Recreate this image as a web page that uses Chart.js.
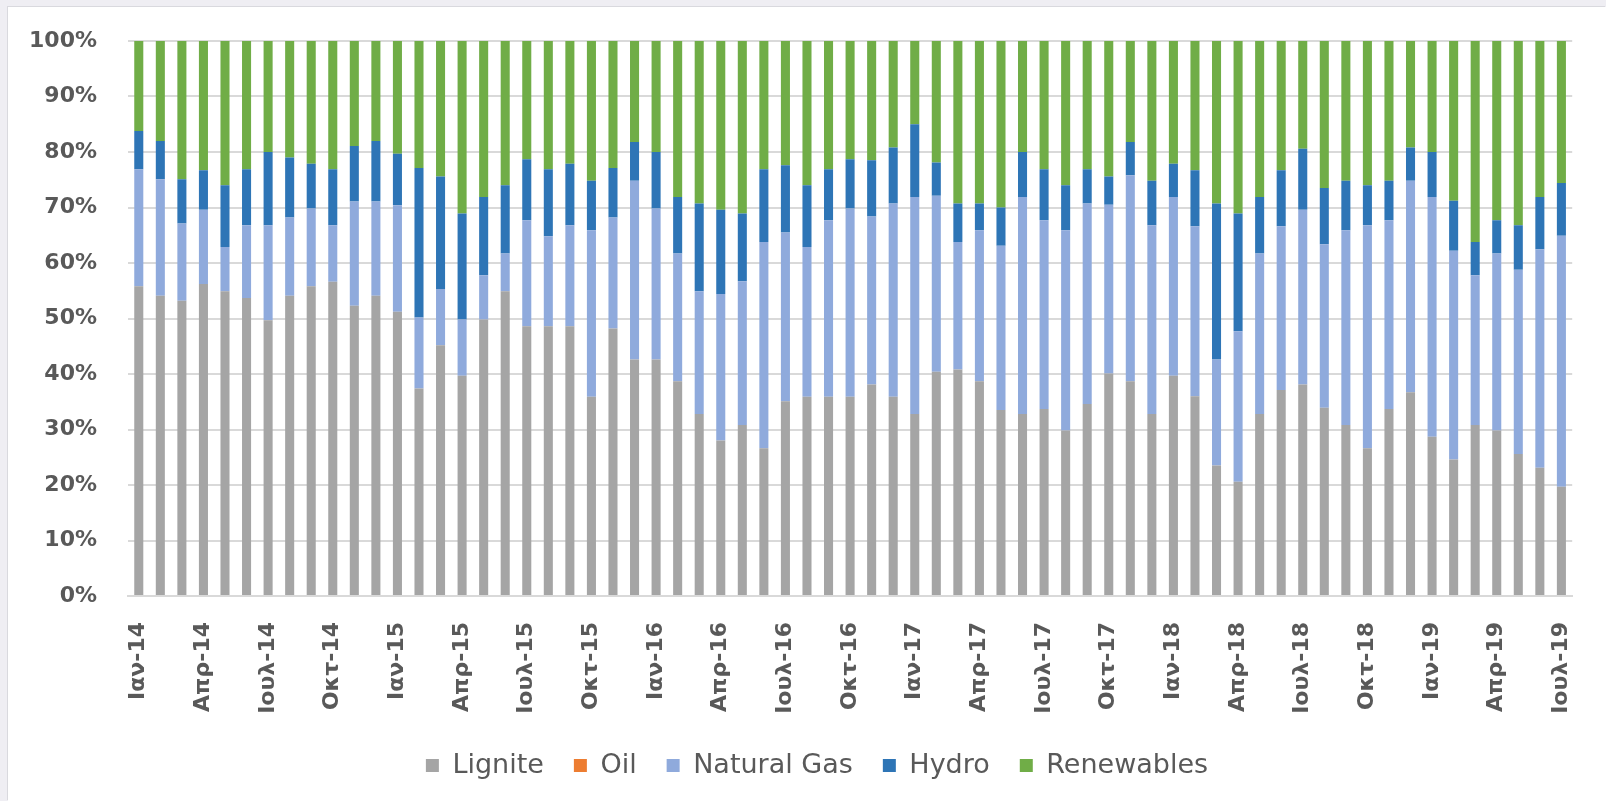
<!DOCTYPE html>
<html>
<head>
<meta charset="utf-8">
<script src="https://cdn.jsdelivr.net/npm/chart.js@4.4.1/dist/chart.umd.min.js"></script>
<style>
  html, body { margin: 0; padding: 0; background: #efeef3; }
  .card {
    position: absolute; left: 8px; top: 7px;
    width: 1598px; height: 794px;
    background: #ffffff;
    box-shadow: -1px -1px 0 #d9d9de;
  }
  canvas { display: block; }
</style>
</head>
<body>
<div class="card"><canvas id="mixChart" width="1598" height="794"></canvas></div>
<script>
// Greek month abbreviations, Jan 2014 .. Jul 2019
const months = ['Ιαν', 'Φεβ', 'Μαρ', 'Απρ', 'Μαϊ', 'Ιουν', 'Ιουλ', 'Αυγ', 'Σεπ', 'Οκτ', 'Νοε', 'Δεκ'];
const years = ['14', '15', '16', '17', '18', '19'];
const lastMonthIdx = 6; // Ιουλ-19

const labels = [];
years.forEach((y, yi) => {
    months.forEach((m, mi) => {
        if (yi === years.length - 1 && mi > lastMonthIdx) return;
        labels.push(m + '-' + y);
    });
});

// shares (%)
const lignite = [
    55.8, 54.1, 53.2, 56.2, 54.9, 53.7, 49.7, 54.1, 55.8, 56.6, 52.3, 54.1,
    51.2, 37.4, 45.2, 39.7, 49.8, 54.9, 48.6, 48.6, 48.6, 35.9, 48.2, 42.6,
    42.6, 38.7, 32.8, 28.0, 30.8, 26.6, 35.1, 35.9, 35.9, 35.9, 38.1, 35.9,
    32.8, 40.4, 40.8, 38.7, 33.5, 32.8, 33.7, 29.8, 34.6, 40.1, 38.7, 32.8,
    39.7, 36.0, 23.5, 20.6, 32.8, 37.1, 38.1, 33.9, 30.8, 26.6, 33.7, 36.7,
    28.7, 24.6, 30.8, 29.8, 25.6, 23.1, 19.7
];
const oil = [
    0, 0, 0, 0, 0, 0, 0, 0, 0, 0, 0, 0,
    0, 0, 0, 0, 0, 0, 0, 0, 0, 0, 0, 0,
    0, 0, 0, 0, 0, 0, 0, 0, 0, 0, 0, 0,
    0, 0, 0, 0, 0, 0, 0, 0, 0, 0, 0, 0,
    0, 0, 0, 0, 0, 0, 0, 0, 0, 0, 0, 0,
    0, 0, 0, 0, 0, 0, 0
];
const naturalGas = [
    21.1, 21.0, 13.9, 13.4, 8.0, 13.1, 17.1, 14.1, 14.0, 10.2, 18.8, 17.0,
    19.2, 12.8, 10.1, 10.1, 8.0, 6.8, 19.1, 16.2, 18.2, 30.0, 20.0, 32.2,
    27.2, 23.0, 22.1, 26.4, 25.9, 37.2, 30.4, 27.0, 31.8, 33.9, 30.3, 34.8,
    39.1, 31.7, 23.0, 27.2, 29.6, 39.1, 34.0, 36.1, 36.1, 30.4, 37.1, 34.0,
    32.2, 30.6, 19.1, 27.1, 28.9, 29.5, 31.5, 29.5, 35.1, 40.2, 34.0, 38.1,
    43.2, 37.6, 27.0, 31.9, 33.2, 39.4, 45.2
];
const hydro = [
    6.9, 6.9, 8.0, 7.1, 11.1, 10.1, 13.2, 10.8, 8.1, 10.1, 10.0, 10.9,
    9.3, 26.9, 20.3, 19.1, 14.1, 12.3, 11.0, 12.1, 11.1, 8.9, 8.9, 7.0,
    10.2, 10.2, 15.8, 15.2, 12.2, 13.1, 12.1, 11.1, 9.2, 8.9, 10.1, 10.1,
    13.1, 6.0, 6.9, 4.8, 6.9, 8.1, 9.2, 8.1, 6.2, 5.1, 6.0, 8.0,
    6.0, 10.1, 28.1, 21.2, 10.2, 10.1, 11.0, 10.1, 8.9, 7.2, 7.1, 6.0,
    8.1, 9.0, 6.0, 6.0, 8.0, 9.4, 9.5
];
const renewables = [
    16.2, 18.0, 24.9, 23.3, 26.0, 23.1, 20.0, 21.0, 22.1, 23.1, 18.9, 18.0,
    20.3, 22.9, 24.4, 31.1, 28.1, 26.0, 21.3, 23.1, 22.1, 25.2, 22.9, 18.2,
    20.0, 28.1, 29.3, 30.4, 31.1, 23.1, 22.4, 26.0, 23.1, 21.3, 21.5, 19.2,
    15.0, 21.9, 29.3, 29.3, 30.0, 20.0, 23.1, 26.0, 23.1, 24.4, 18.2, 25.2,
    22.1, 23.3, 29.3, 31.1, 28.1, 23.3, 19.4, 26.5, 25.2, 26.0, 25.2, 19.2,
    20.0, 28.8, 36.2, 32.3, 33.2, 28.1, 25.6
];

const textGrey = '#595959';
const gridGrey = '#d9d9d9';

function series(label, data, color) {
    return {
        label: label,
        data: data,
        backgroundColor: color,
        borderWidth: 0,
        categoryPercentage: 1.0,
        barPercentage: 0.42
    };
}

// legend in the original sits a bit right of the canvas centre
const legendShift = {
    id: 'legendShift',
    afterLayout(chart) {
        chart.legend.left += 23;
        chart.legend.right += 23;
    }
};

const ctx = document.getElementById('mixChart').getContext('2d');
new Chart(ctx, {
    type: 'bar',
    data: {
        labels: labels,
        datasets: [
            series('Lignite', lignite, '#a5a5a5'),
            series('Oil', oil, '#ed7d31'),
            series('Natural Gas', naturalGas, '#8faadc'),
            series('Hydro', hydro, '#2e75b6'),
            series('Renewables', renewables, '#70ad47')
        ]
    },
    plugins: [legendShift],
    options: {
        responsive: false,
        animation: false,
        layout: {
            padding: { left: 0, right: 26, top: 34, bottom: 12 }
        },
        plugins: {
            tooltip: { enabled: false },
            legend: {
                position: 'bottom',
                labels: {
                    color: textGrey,
                    font: { family: 'DejaVu Sans', size: 27 },
                    boxWidth: 13,
                    boxHeight: 13,
                    padding: 30
                }
            }
        },
        scales: {
            x: {
                stacked: true,
                grid: { display: false },
                border: { display: true, color: gridGrey, width: 2 },
                ticks: {
                    autoSkip: false,
                    maxRotation: 90,
                    minRotation: 90,
                    padding: 18,
                    color: textGrey,
                    font: { family: 'DejaVu Sans', size: 22, weight: 'bold' },
                    callback: function (value, index) {
                        return index % 3 === 0 ? labels[index] : '';
                    }
                },
                afterFit: function (scale) { scale.height = 126; }
            },
            y: {
                stacked: true,
                min: 0,
                max: 100,
                grid: {
                    color: gridGrey,
                    lineWidth: 2,
                    drawTicks: true,
                    tickLength: 31,
                    tickColor: 'rgba(0,0,0,0)'
                },
                border: { display: false },
                ticks: {
                    stepSize: 10,
                    padding: 0,
                    color: textGrey,
                    font: { family: 'DejaVu Sans', size: 22, weight: 'bold' },
                    callback: function (value) { return value + '%'; }
                },
                afterFit: function (scale) { scale.width = 120; }
            }
        }
    }
});
</script>
</body>
</html>
